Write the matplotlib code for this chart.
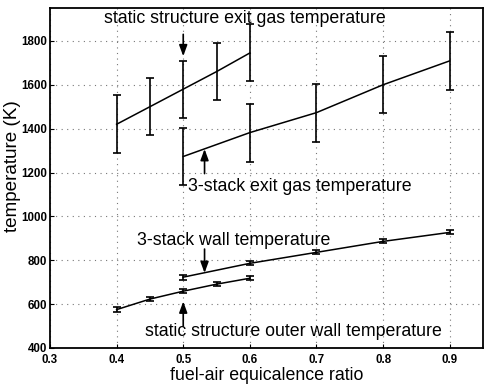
import matplotlib.pyplot as plt
import numpy as np

plt.rcParams['font.family'] = ['Liberation Sans', 'DejaVu Sans']

# --- data ---
x_static = [0.4, 0.45, 0.5, 0.55, 0.6]
x_stack = [0.5, 0.6, 0.7, 0.8, 0.9]

static_gas = [1420, 1500, 1580, 1660, 1745]
static_gas_err = [132, 130, 130, 130, 130]
stack_gas = [1273, 1382, 1473, 1600, 1709]
stack_gas_err = [130, 132, 132, 130, 132]

static_wall = [575, 623, 659, 691, 718]
static_wall_err = [12, 8, 8, 8, 8]
stack_wall = [723, 786, 836, 886, 927]
stack_wall_err = [12, 9, 9, 9, 9]

x_ticks = [0.3, 0.4, 0.5, 0.6, 0.7, 0.8, 0.9]
y_ticks = [400, 600, 800, 1000, 1200, 1400, 1600, 1800]

fig = plt.figure(figsize=(4.84, 3.88), dpi=100)
ax = fig.add_axes([50 / 484, 1 - 348 / 388, 433 / 484, 340 / 388])

ekw = dict(color='black', lw=1.1, elinewidth=1.2, capsize=2.8, capthick=1.2)
ax.errorbar(x_static, static_gas, yerr=static_gas_err, **ekw)
ax.errorbar(x_stack, stack_gas, yerr=stack_gas_err, **ekw)
ax.errorbar(x_static, static_wall, yerr=static_wall_err, **ekw)
ax.errorbar(x_stack, stack_wall, yerr=stack_wall_err, **ekw)

ax.set_xlim(0.3, 0.95)
ax.set_ylim(400, 1950)
ax.set_xticks(x_ticks)
ax.set_xticklabels([f"{v:.1f}" for v in x_ticks], fontsize=8.3, fontweight='bold')
ax.set_yticks(y_ticks)
ax.set_yticklabels([str(v) for v in y_ticks], fontsize=8.3, fontweight='bold')
ax.tick_params(direction='in', length=3, width=0.8, pad=2)
ax.tick_params(axis='x', pad=4)
ax.grid(True, linestyle=(0, (1, 4)), color='#777777', lw=0.8)
for s in ax.spines.values():
    s.set_linewidth(1.3)

ax.set_xlabel("fuel-air equicalence ratio", fontsize=12.8)
ax.xaxis.set_label_coords(0.5, -0.057)
ax.set_ylabel("temperature (K)", fontsize=13.6)
ax.yaxis.set_label_coords(-0.067, 0.535)

akw = dict(arrowstyle='-|>,head_length=0.6,head_width=0.22', color='black',
           lw=1.2, mutation_scale=11, shrinkA=0, shrinkB=0)
tsize = 12.8
# static structure exit gas
ax.text(0.381, 1904, "static structure exit gas temperature", fontsize=tsize, ha='left', va='center')
ax.annotate("", xy=(0.5, 1730), xytext=(0.5, 1830), arrowprops=akw)
# 3-stack exit gas
ax.text(0.507, 1137, "3-stack exit gas temperature", fontsize=tsize, ha='left', va='center')
ax.annotate("", xy=(0.532, 1307), xytext=(0.532, 1195), arrowprops=akw)
# 3-stack wall
ax.text(0.431, 890, "3-stack wall temperature", fontsize=tsize, ha='left', va='center')
ax.annotate("", xy=(0.532, 742), xytext=(0.532, 851), arrowprops=akw)
# static structure outer wall
ax.text(0.443, 473, "static structure outer wall temperature", fontsize=tsize, ha='left', va='center')
ax.annotate("", xy=(0.5, 612), xytext=(0.5, 500), arrowprops=akw)

fig.savefig("out.png", dpi=100)
